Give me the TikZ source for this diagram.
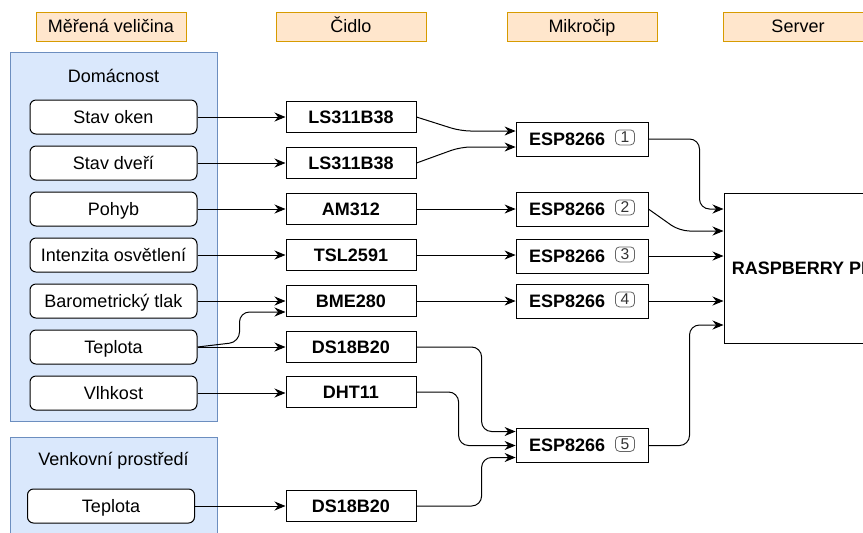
\documentclass[tikz,border=0pt]{standalone}
\usepackage{fontspec}
\setmainfont{Liberation Sans}
\usepackage{tikz}
\usetikzlibrary{calc}
\usetikzlibrary{arrows.meta}
\tikzset{>={Stealth[length=5.5pt,width=4.5pt,inset=1.8pt]}}
\definecolor{hdrfill}{HTML}{FFE6CC}
\definecolor{hdrline}{HTML}{D79B00}
\definecolor{grpfill}{HTML}{DAE8FC}
\definecolor{grpline}{HTML}{6C8EBF}
\newcommand{\espno}[1]{\tikz[baseline=-0.8ex]\node[draw=black!60, rounded corners=2pt, inner sep=0pt,
  minimum width=9.5pt, minimum height=7.5pt, text height=5.4pt, text depth=0pt, text=black!80,
  font=\fontsize{7.8}{8}\selectfont\mdseries]{#1};}

\begin{document}
\begin{tikzpicture}[x=0.5pt, y=-0.5pt, line width=0.5pt, font=\fontsize{9}{11}\selectfont,
    every node/.append style={text height=6.5pt, text depth=0.5pt},
    head/.style={draw=hdrline, fill=hdrfill, minimum width=75pt, minimum height=14.5pt, inner sep=0pt},
    group/.style={draw=grpline, fill=grpfill},
    quant/.style={draw, fill=white, rounded corners=3pt, minimum width=83.5pt, minimum height=17pt, inner sep=0pt},
    sensor/.style={draw, fill=white, font=\fontsize{9}{11}\selectfont\bfseries, minimum width=65pt, minimum height=15.5pt, inner sep=0pt},
    chip/.style={sensor, minimum width=66pt, minimum height=17pt},
    wire/.style={->, rounded corners=5pt}]
  \useasboundingbox (0,0) rectangle (863,532);
  \clip (0,0) rectangle (863,532);

  \node[head] (h1) at (111,26.5) {Měřená veličina};
  \node[head] (h2) at (351,26.5) {Čidlo};
  \node[head] (h3) at (582,26.5) {Mikročip};
  \node[head] (h4) at (798,26.5) {Server};

  \draw[group] (10,52) rectangle (217,421);
  \draw[group] (10,437) rectangle (217,550);
  \node (home) at (113.5,76) {Domácnost};
  \node (outside) at (113.5,459) {Venkovní prostředí};

  \node[quant] (so) at (113.5,117) {Stav oken};
  \node[quant] (sd) at (113.5,163) {Stav dveří};
  \node[quant] (po) at (113.5,209) {Pohyb};
  \node[quant] (il) at (113.5,255) {Intenzita osvětlení};
  \node[quant] (bt) at (113.5,301) {Barometrický tlak};
  \node[quant] (te) at (113.5,347) {Teplota};
  \node[quant] (vl) at (113.5,393) {Vlhkost};
  \node[quant] (vt) at (111,506) {Teplota};

  \node[sensor] (ls1) at (351,117) {LS311B38};
  \node[sensor] (ls2) at (351,163) {LS311B38};
  \node[sensor] (am) at (351,209) {AM312};
  \node[sensor] (tsl) at (351,255) {TSL2591};
  \node[sensor] (bme) at (351,301) {BME280};
  \node[sensor] (ds1) at (351,347) {DS18B20};
  \node[sensor] (dht) at (351,392) {DHT11};
  \node[sensor] (ds2) at (351,506) {DS18B20};

  \node[chip] (esp1) at (582,139) {ESP8266\hspace{5pt}\espno{1}};
  \node[chip] (esp2) at (582,209) {ESP8266\hspace{5pt}\espno{2}};
  \node[chip] (esp3) at (582,256) {ESP8266\hspace{5pt}\espno{3}};
  \node[chip] (esp4) at (582,301) {ESP8266\hspace{5pt}\espno{4}};
  \node[chip] (esp5) at (582,445.5) {ESP8266\hspace{5pt}\espno{5}};

  \node[draw, font=\fontsize{9}{11}\selectfont\bfseries, minimum width=75pt, minimum height=75pt] (srv) at (799,268) {RASPBERRY PI};

  \draw[wire] (so.east) -- (so.east -| ls1.west);
  \draw[wire] (sd.east) -- (sd.east -| ls2.west);
  \draw[wire] (po.east) -- (po.east -| am.west);
  \draw[wire] (il.east) -- (il.east -| tsl.west);
  \draw[wire] (bt.east) -- (bt.east -| bme.west);
  \draw[wire] (te.east) -- ($(bme.west)+(-46,41)$) -- ($(bme.west)+(-46,11)$) -- ($(bme.west)+(0,11)$);
  \draw[wire] (te.east) -- (te.east -| ds1.west);
  \draw[wire] (vl.east) -- (vl.east -| dht.west);
  \draw[wire] (vt.east) -- (vt.east -| ds2.west);

  \draw[wire] (ls1.east) -- ($(esp1.west)+(-55,-8)$) -- ($(esp1.west)+(0,-8)$);
  \draw[wire] (ls2.east) -- ($(esp1.west)+(-55,8)$) -- ($(esp1.west)+(0,8)$);
  \draw[wire] (am.east) -- (am.east -| esp2.west);
  \draw[wire] (tsl.east) -- (tsl.east -| esp3.west);
  \draw[wire] (bme.east) -- (bme.east -| esp4.west);
  \draw[wire] (ds1.east) -| ($(esp5.west)+(-34,-14)$) -- ($(esp5.west)+(0,-14)$);
  \draw[wire] (dht.east) -| ($(esp5.west)+(-57,0)$) -- (esp5.west);
  \draw[wire] (ds2.east) -| ($(esp5.west)+(-34,12)$) -- ($(esp5.west)+(0,12)$);

  \draw[wire] (esp1.east) -| ($(srv.west)+(-24,-59)$) -- ($(srv.west)+(0,-59)$);
  \draw[wire] (esp2.east) -- ($(srv.west)+(-44,-37)$) -- ($(srv.west)+(0,-37)$);
  \draw[wire] (esp3.east) -- (esp3.east -| srv.west);
  \draw[wire] (esp4.east) -- (esp4.east -| srv.west);
  \draw[wire] (esp5.east) -| ($(srv.west)+(-34,57)$) -- ($(srv.west)+(0,57)$);
\end{tikzpicture}
\end{document}
